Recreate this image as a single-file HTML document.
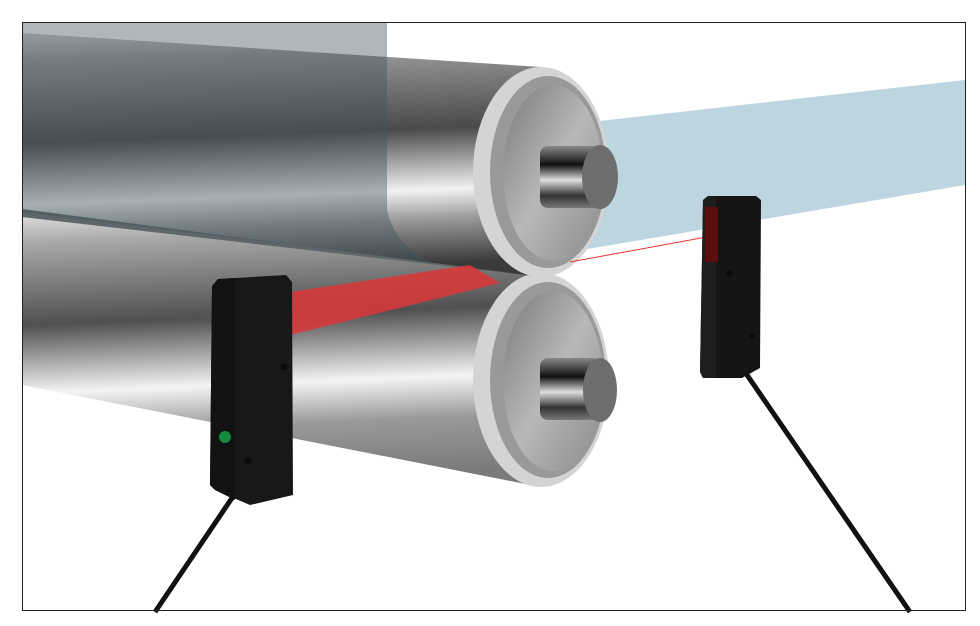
<!DOCTYPE html>
<html><head><meta charset="utf-8"><style>html,body{margin:0;padding:0;background:#fff}svg{display:block}</style></head>
<body>
<svg width="980" height="626" viewBox="0 0 980 626" xmlns="http://www.w3.org/2000/svg">
<defs>
<linearGradient id="rt" x1="0" y1="0" x2="0.08" y2="1">
<stop offset="0" stop-color="#d0d0d0"/><stop offset="0.12" stop-color="#9a9a9a"/><stop offset="0.45" stop-color="#4a4a4a"/><stop offset="0.7" stop-color="#f2f2f2"/><stop offset="0.82" stop-color="#9a9a9a"/><stop offset="1" stop-color="#3a3a3a"/></linearGradient>
<linearGradient id="rb" x1="0" y1="0" x2="0.08" y2="1">
<stop offset="0" stop-color="#d8d8d8"/><stop offset="0.1" stop-color="#a8a8a8"/><stop offset="0.4" stop-color="#505050"/><stop offset="0.65" stop-color="#f4f4f4"/><stop offset="0.8" stop-color="#9a9a9a"/><stop offset="1" stop-color="#7a7a7a"/></linearGradient>
<linearGradient id="face" x1="0" y1="0" x2="1" y2="1">
<stop offset="0" stop-color="#7a7a7a"/><stop offset="0.5" stop-color="#b8b8b8"/><stop offset="1" stop-color="#8a8a8a"/></linearGradient>
<linearGradient id="shaft" x1="0" y1="0" x2="0" y2="1">
<stop offset="0" stop-color="#888"/><stop offset="0.3" stop-color="#111"/><stop offset="0.55" stop-color="#ddd"/><stop offset="0.8" stop-color="#333"/><stop offset="1" stop-color="#777"/></linearGradient>
</defs>
<!-- right sheet -->
<polygon points="590,122 965,80 965,185 570,252" fill="#bdd5de"/>
<!-- gap -->
<polygon points="22,200 541,265 541,285 22,220" fill="#5e6669"/>
<!-- bottom roller -->
<path d="M22,217 L541,277 L541,487 L22,385 Z" fill="url(#rb)"/>
<!-- bottom cap -->
<ellipse cx="541" cy="380" rx="68" ry="107" fill="#d4d4d4"/>
<ellipse cx="548" cy="380" rx="58" ry="98" fill="#999"/>
<ellipse cx="553" cy="381" rx="50" ry="90" fill="url(#face)"/>
<rect x="540" y="358" width="60" height="62" rx="8" fill="url(#shaft)"/>
<ellipse cx="600" cy="390" rx="17" ry="32" fill="#6e6e6e"/>
<!-- top roller -->
<path d="M22,33 L541,67 L541,277 L22,209 Z" fill="url(#rt)"/>
<!-- top cap -->
<ellipse cx="541" cy="172" rx="68" ry="105" fill="#d4d4d4"/>
<ellipse cx="548" cy="172" rx="58" ry="96" fill="#999"/>
<ellipse cx="553" cy="173" rx="50" ry="88" fill="url(#face)"/>
<rect x="540" y="146" width="60" height="62" rx="8" fill="url(#shaft)"/>
<ellipse cx="600" cy="177" rx="18" ry="32" fill="#6e6e6e"/>
<!-- left sheet -->
<path d="M22,22 L387,22 L387,210 Q395,245 430,262 L22,212 Z" fill="#3e5560" fill-opacity="0.42"/>
<!-- red beam -->
<polygon points="290,292 470,265 500,283 290,335" fill="#d8383a" fill-opacity="0.88"/>
<line x1="570" y1="262" x2="712" y2="236" stroke="#e33" stroke-width="1"/>
<!-- right sensor -->
<path d="M745,372 L910,612" stroke="#111" stroke-width="5"/>
<path d="M703,200 L708,196 L756,196 L761,200 L760,368 L742,378 L703,378 L700,372 Z" fill="#151515"/>
<path d="M703,200 L708,196 L716,196 L716,378 L703,378 L700,372 Z" fill="#1e1e1e"/>
<rect x="705" y="207" width="13" height="55" fill="#5a0e0e"/>
<circle cx="729" cy="273" r="3" fill="#0a0a0a"/>
<circle cx="752" cy="336" r="3" fill="#0a0a0a"/>
<!-- left sensor -->
<path d="M234,495 L155,612" stroke="#111" stroke-width="5"/>
<path d="M212,286 L218,279 L286,275 L292,282 L293,495 L250,505 L215,490 L210,485 Z" fill="#181818"/>
<path d="M212,286 L218,279 L235,278 L235,500 L215,490 L210,485 Z" fill="#121212"/>
<circle cx="225" cy="437" r="6" fill="#138a3e"/>
<circle cx="248" cy="461" r="3.5" fill="#0a0a0a"/>
<circle cx="284" cy="367" r="3.5" fill="#0a0a0a"/>
<!-- frame -->
<rect x="22.5" y="22.5" width="943" height="588" fill="none" stroke="#222" stroke-width="1"/>
</svg>
</body></html>
